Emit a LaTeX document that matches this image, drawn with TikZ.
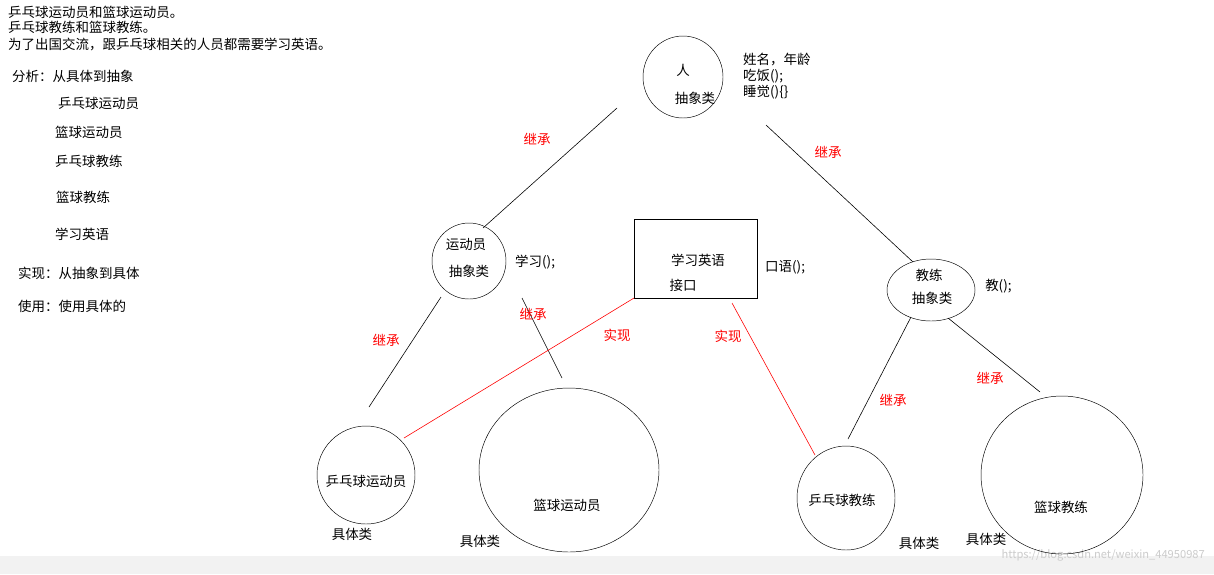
\documentclass[tikz,border=0pt]{standalone}
\usepackage{fontspec}
\setmainfont{Noto Sans CJK SC}
\begin{document}
\begin{tikzpicture}[x=0.03cm,y=-0.03cm,font=\fontsize{11.5}{13}\selectfont,
  lbl/.style={anchor=west,inner sep=0pt},
  txt/.style={inner sep=0pt},
  rel/.style={red,inner sep=0pt},
  link/.style={line width=0.5pt}]
\useasboundingbox (0,0) rectangle (1214,574);
\fill[white] (0,0) rectangle (1214,574);
\fill[black!5] (0,556) rectangle (1214,574);
\node[anchor=east,inner sep=0pt,gray!40,font=\fontsize{9.5}{11}\selectfont] (wm) at (1205,555) {https://blog.csdn.net/weixin\_44950987};
% notes on the left
\node[lbl] (n1) at (8,12) {乒乓球运动员和篮球运动员。};
\node[lbl] (n2) at (8,27) {乒乓球教练和篮球教练。};
\node[lbl] (n3) at (8,44) {为了出国交流，跟乒乓球相关的人员都需要学习英语。};
\node[lbl] (a0) at (12,76) {分析：从具体到抽象};
\node[lbl] (a1) at (58,103) {乒乓球运动员};
\node[lbl] (a2) at (55,132) {篮球运动员};
\node[lbl] (a3) at (55,161) {乒乓球教练};
\node[lbl] (a4) at (56,197) {篮球教练};
\node[lbl] (a5) at (55,234) {学习英语};
\node[lbl] (s1) at (18,273) {实现：从抽象到具体};
\node[lbl] (s2) at (18,306) {使用：使用具体的};
% classes
\draw (683,77) ellipse (40 and 41);
\node[txt] (ren) at (683,70) {人};
\node[txt] (renc) at (695,98) {抽象类};
\node[lbl] (r1) at (743,60) {姓名，年龄};
\node[lbl] (r2) at (743,76) {吃饭();};
\node[lbl] (r3) at (743,92) {睡觉()\{\}};
\draw (469,261) ellipse (37 and 38);
\node[txt] (ydy) at (466,245) {运动员};
\node[txt] (ydyc) at (469,271) {抽象类};
\node[lbl] (y1) at (515,262) {学习();};
\draw (634,219) rectangle (757,298);
\node[txt] (xx) at (698,260) {学习英语};
\node[txt] (jk) at (683,285) {接口};
\node[lbl] (x1) at (765,267) {口语();};
\draw (931,290) ellipse (44 and 31);
\node[txt] (jl) at (929,275) {教练};
\node[txt] (jlc) at (932,298) {抽象类};
\node[lbl] (j1) at (985,286) {教();};
\draw (366,475) ellipse (49 and 49);
\node[txt] (ppy) at (366,481) {乒乓球运动员};
\draw (569,470) ellipse (90 and 82);
\node[txt] (lqy) at (567,505) {篮球运动员};
\draw (846,498) ellipse (49 and 52);
\node[txt] (ppj) at (842,500) {乒乓球教练};
\draw (1062,475) ellipse (81 and 79);
\node[txt] (lqj) at (1061,507) {篮球教练};
\node[txt] (k1) at (352,534) {具体类};
\node[txt] (k2) at (480,541) {具体类};
\node[txt] (k3) at (919,543) {具体类};
\node[txt] (k4) at (986,539) {具体类};
% connectors
\coordinate (p1) at (617,108); \coordinate (p2) at (483,228);
\coordinate (p3) at (766,125); \coordinate (p4) at (913,262);
\coordinate (p5) at (441,297); \coordinate (p6) at (369,407);
\coordinate (p7) at (522,298); \coordinate (p8) at (562,378);
\coordinate (p9) at (634,298); \coordinate (p10) at (404,438);
\coordinate (p11) at (732,303); \coordinate (p12) at (815,455);
\coordinate (p13) at (911,317); \coordinate (p14) at (848,439);
\coordinate (p15) at (948,318); \coordinate (p16) at (1040,392);
\draw[link] (p1) -- (p2);
\draw[link] (p3) -- (p4);
\draw[link] (p5) -- (p6);
\draw[link] (p7) -- (p8);
\draw[link,red] (p9) -- (p10);
\draw[link,red] (p11) -- (p12);
\draw[link] (p13) -- (p14);
\draw[link] (p15) -- (p16);
\node[rel] (e1) at (537,139) {继承};
\node[rel] (e2) at (828,152) {继承};
\node[rel] (e3) at (386,340) {继承};
\node[rel] (e4) at (533,314) {继承};
\node[rel] (e5) at (617,335) {实现};
\node[rel] (e6) at (728,336) {实现};
\node[rel] (e7) at (893,400) {继承};
\node[rel] (e8) at (990,378) {继承};
\end{tikzpicture}
\end{document}
